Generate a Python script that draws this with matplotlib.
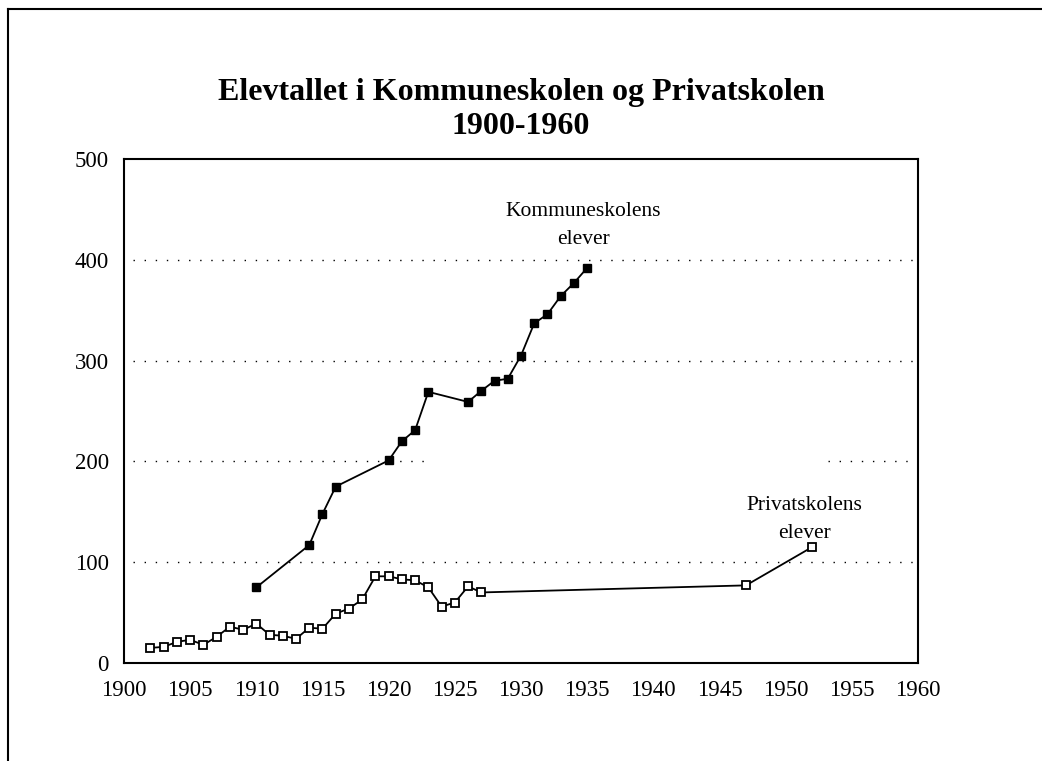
import matplotlib
matplotlib.use("Agg")
import matplotlib.pyplot as plt
from matplotlib.lines import Line2D

# Data
komm_years = [1910, 1914, 1915, 1916, 1920, 1921, 1922, 1923, 1926, 1927,
              1928, 1929, 1930, 1931, 1932, 1933, 1934, 1935]
komm_values = [75, 117, 148, 175, 201, 220, 231, 269, 259, 270,
               280, 282, 305, 337, 346, 364, 377, 392]

priv_years = [1902, 1903, 1904, 1905, 1906, 1907, 1908, 1909, 1910, 1911,
              1912, 1913, 1914, 1915, 1916, 1917, 1918, 1919, 1920, 1921,
              1922, 1923, 1924, 1925, 1926, 1927, 1947, 1952]
priv_values = [15, 16, 21, 23, 18, 26, 36, 33, 39, 28,
               27, 24, 35, 34, 49, 54, 63, 86, 86, 83,
               82, 75, 56, 60, 76, 70, 77, 115]

x_ticks = list(range(1900, 1961, 5))
y_ticks = [0, 100, 200, 300, 400, 500]
grid_levels = [100, 200, 300, 400]

title = "Elevtallet i Kommuneskolen og Privatskolen\n1900-1960"
komm_label = "Kommuneskolens\nelever"
priv_label = "Privatskolens\nelever"

FONT = "Liberation Serif"

fig = plt.figure(figsize=(10.42, 7.61), dpi=100)
ax = fig.add_axes([124/1042, 1 - 663/761, (918 - 124)/1042, (663 - 159)/761])

dots = (0, (1, 7))
# dotted gridlines (the 200 line has a gap in the original)
for g in grid_levels:
    if g == 200:
        ax.plot([1900.7, 1922.8], [g, g], color="black", lw=1.0,
                linestyle=dots, zorder=1)
        ax.plot([1953.2, 1960], [g, g], color="black", lw=1.0,
                linestyle=dots, zorder=1)
    else:
        ax.plot([1900.7, 1960], [g, g], color="black", lw=1.0,
                linestyle=dots, zorder=1)

ax.plot(komm_years, komm_values, color="black", lw=1.3, marker="s",
        markersize=5.3, markerfacecolor="black", markeredgecolor="black",
        zorder=3)
ax.plot(priv_years, priv_values, color="black", lw=1.3, marker="s",
        markersize=5.2, markerfacecolor="white", markeredgecolor="black",
        markeredgewidth=1.3, zorder=3)

ax.set_xlim(1900, 1960)
ax.set_ylim(0, 500)
ax.set_xticks(x_ticks)
ax.set_yticks(y_ticks)
ax.tick_params(axis="both", length=0, labelsize=16.5)
ax.tick_params(axis="x", pad=12)
ax.tick_params(axis="y", pad=11)
for lab in ax.get_xticklabels() + ax.get_yticklabels():
    lab.set_fontfamily(FONT)
for sp in ax.spines.values():
    sp.set_linewidth(1.5)

ax.text(1934.7, 411, komm_label, ha="center", va="bottom", fontsize=15.5,
        family=FONT, linespacing=1.62)
ax.text(1951.4, 119, priv_label, ha="center", va="bottom", fontsize=15.5,
        family=FONT, linespacing=1.62)

fig.text(0.5, 1 - 109.5/761, title, ha="center", va="center", fontsize=23,
         fontweight="bold", family=FONT, linespacing=1.22)

# outer frame: top and left lines
fig.add_artist(Line2D([8/1042, 1.0], [1 - 8.5/761, 1 - 8.5/761],
                      transform=fig.transFigure, color="black", lw=1.5))
fig.add_artist(Line2D([8/1042, 8/1042], [0.0, 1 - 8.5/761],
                      transform=fig.transFigure, color="black", lw=1.5))

fig.savefig("out.png", dpi=100)
